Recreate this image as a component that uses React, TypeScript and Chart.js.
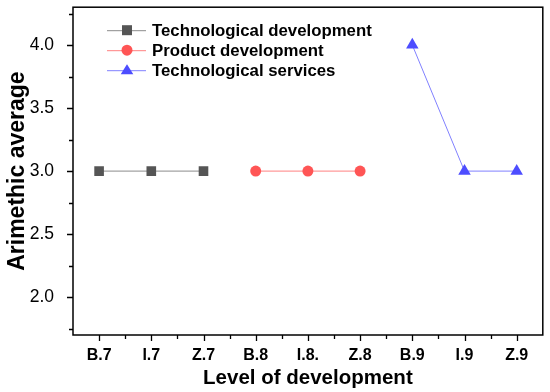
import React, { useEffect, useRef } from "react";
import { Chart, registerables } from "chart.js";

Chart.register(...registerables);

const categories = ["B.7", "I.7", "Z.7", "B.8", "I.8.", "Z.8", "B.9", "I.9", "Z.9"];
const techDevelopment = [3, 3, 3, null, null, null, null, null, null];
const productDevelopment = [null, null, null, 3, 3, 3, null, null, null];
const techServices = [null, null, null, null, null, null, 4, 3, 3];
const seriesNames = ["Technological development", "Product development", "Technological services"];
const yMajorTicks = [2.0, 2.5, 3.0, 3.5, 4.0];

const FONT = "Arial, 'Liberation Sans', sans-serif";

const frameAndTicks = {
  id: "frameAndTicks",
  afterDraw(chart: any) {
    const { ctx, chartArea } = chart;
    const xs = chart.scales.x;
    const ys = chart.scales.y;
    ctx.save();
    ctx.strokeStyle = "#000";
    ctx.lineWidth = 1.5;
    ctx.strokeRect(chartArea.left, chartArea.top, chartArea.right - chartArea.left, chartArea.bottom - chartArea.top);
    ctx.lineWidth = 1.3;
    ctx.beginPath();
    for (let v = 1.75; v <= 4.26; v += 0.25) {
      const y = Math.round(ys.getPixelForValue(v)) + 0.5;
      const major = Math.abs(v * 2 - Math.round(v * 2)) < 1e-6;
      const len = major ? 6 : 4;
      ctx.moveTo(chartArea.left, y);
      ctx.lineTo(chartArea.left - len, y);
    }
    for (let i = 0; i < categories.length; i++) {
      const x = Math.round(xs.getPixelForValue(i)) + 0.5;
      ctx.moveTo(x, chartArea.bottom);
      ctx.lineTo(x, chartArea.bottom + 6);
      if (i > 0) {
        const xm = Math.round(xs.getPixelForValue(i - 0.5)) + 0.5;
        ctx.moveTo(xm, chartArea.bottom);
        ctx.lineTo(xm, chartArea.bottom + 4);
      }
    }
    ctx.stroke();

    const ds = chart.data.datasets;
    const lx = chartArea.left + 34;
    const ly = chartArea.top + 23;
    ctx.font = `bold 16.8px ${FONT}`;
    ctx.textBaseline = "middle";
    ctx.textAlign = "left";
    ds.forEach((d: any, i: number) => {
      const y = ly + i * 20;
      ctx.strokeStyle = d.borderColor;
      ctx.lineWidth = 1;
      ctx.beginPath();
      ctx.moveTo(lx, y + 0.5);
      ctx.lineTo(lx + 39, y + 0.5);
      ctx.stroke();
      ctx.fillStyle = d.pointBackgroundColor;
      ctx.beginPath();
      const cx = lx + 20;
      if (d.pointStyle === "rect") {
        ctx.rect(cx - 5, y - 5, 10, 10);
      } else if (d.pointStyle === "circle") {
        ctx.arc(cx, y, 5.5, 0, Math.PI * 2);
      } else {
        ctx.moveTo(cx, y - 6);
        ctx.lineTo(cx + 6.3, y + 4);
        ctx.lineTo(cx - 6.3, y + 4);
        ctx.closePath();
      }
      ctx.fill();
      ctx.fillStyle = "#000";
      ctx.fillText(seriesNames[i], lx + 45, y + 1);
    });
    ctx.restore();
  },
};

export default function App() {
  const ref = useRef<HTMLCanvasElement>(null);
  useEffect(() => {
    document.body.style.margin = "0";
    const chart = new Chart(ref.current as HTMLCanvasElement, {
      type: "line",
      data: {
        labels: categories,
        datasets: [
          {
            label: seriesNames[0],
            data: techDevelopment,
            borderColor: "#8c8c8c",
            borderWidth: 1,
            pointStyle: "rect",
            pointRadius: 6.8,
            pointBackgroundColor: "#555555",
            pointBorderColor: "#555555",
            pointBorderWidth: 0,
          },
          {
            label: seriesNames[1],
            data: productDevelopment,
            borderColor: "#ff8080",
            borderWidth: 1,
            pointStyle: "circle",
            pointRadius: 5.5,
            pointBackgroundColor: "#ff5555",
            pointBorderColor: "#ff5555",
            pointBorderWidth: 0,
          },
          {
            label: seriesNames[2],
            data: techServices,
            borderColor: "#8080ff",
            borderWidth: 1,
            pointStyle: "triangle",
            pointRadius: 7.2,
            pointBackgroundColor: "#4d4dff",
            pointBorderColor: "#4d4dff",
            pointBorderWidth: 0,
          },
        ],
      },
      options: {
        animation: false,
        responsive: false,
        layout: { padding: { top: 7, right: 6, left: 0, bottom: 0 } },
        plugins: { legend: { display: false }, tooltip: { enabled: false } },
        scales: {
          x: {
            type: "category",
            offset: true,
            grid: { display: false },
            border: { display: false },
            afterFit(scale: any) {
              scale.height = 57;
              scale.paddingLeft = 0;
              scale.paddingRight = 0;
            },
            ticks: {
              color: "#000",
              padding: 3,
              maxRotation: 0,
              autoSkip: false,
              font: { family: FONT, size: 16, weight: "bold" },
            },
            title: {
              display: true,
              text: "Level of development",
              color: "#000",
              font: { family: FONT, size: 20.5, weight: "bold" },
              padding: { top: 0, bottom: 1 },
            },
          },
          y: {
            min: 1.7,
            max: 4.3,
            afterBuildTicks(scale: any) {
              scale.ticks = yMajorTicks.map((v) => ({ value: v }));
            },
            afterFit(scale: any) {
              scale.width = 73;
              scale.paddingTop = 0;
              scale.paddingBottom = 0;
            },
            grid: { display: false },
            border: { display: false },
            ticks: {
              color: "#000",
              padding: 11,
              font: { family: FONT, size: 17.5 },
              callback: (v: any) => Number(v).toFixed(1),
            },
            title: {
              display: true,
              text: "Arimethic average",
              color: "#000",
              font: { family: FONT, size: 23, weight: "bold" },
              padding: { top: 4, bottom: 0 },
            },
          },
        },
      },
      plugins: [frameAndTicks],
    } as any);
    return () => chart.destroy();
  }, []);
  return <canvas ref={ref} width={550} height={392} style={{ display: "block" }} />;
}
